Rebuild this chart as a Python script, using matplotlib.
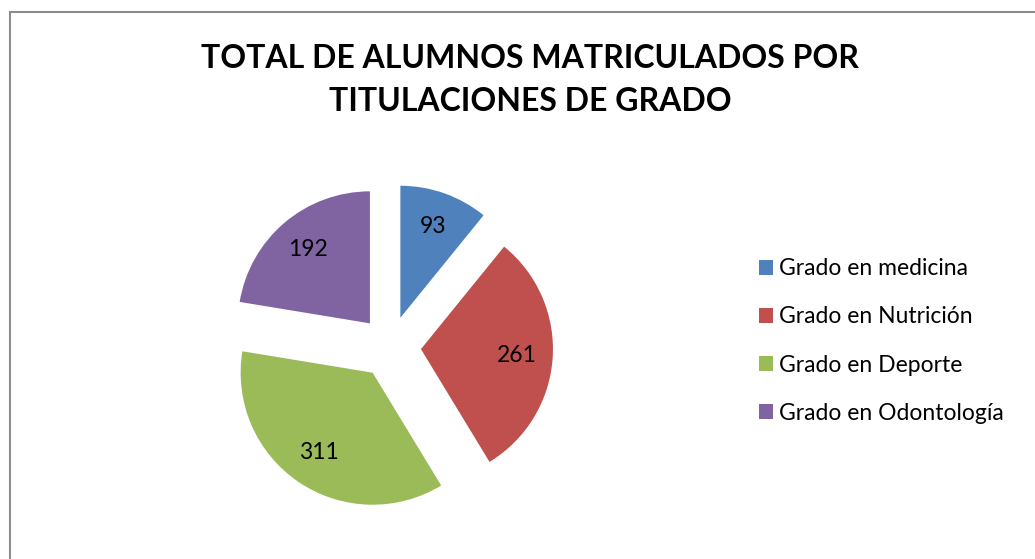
import matplotlib
matplotlib.use("Agg")
import matplotlib.pyplot as plt
from matplotlib.patches import Rectangle, Patch

categories = ["Grado en medicina", "Grado en Nutrición", "Grado en Deporte", "Grado en Odontología"]
values = [93, 261, 311, 192]
colors = ["#4F81BD", "#C0504D", "#9BBB59", "#8064A2"]
title = "TOTAL DE ALUMNOS MATRICULADOS POR\nTITULACIONES DE GRADO"

W, H = 1035, 559
fig = plt.figure(figsize=(W / 100, H / 100), dpi=100)
plt.rcParams['font.family'] = ['Lato', 'DejaVu Sans']

# frame (right and bottom edges lie outside the picture)
fig.patches.append(Rectangle((9.5 / W, -1), 2, 2 - 11.5 / H, transform=fig.transFigure,
                             fill=False, edgecolor="#8c8c8c", linewidth=1.5))

# pie axes: center (390, 347) px, radius 132 px
cx, cy, r = 390, H - 347, 132
L = 1.45
half = r * L
ax = fig.add_axes([(cx - half) / W, (cy - half) / H, 2 * half / W, 2 * half / H])
total = sum(values)
wedges, texts, autotexts = ax.pie(
    values, colors=colors, startangle=90, counterclock=False,
    explode=[0.235] * len(values), radius=1,
    autopct=lambda p: f"{round(p * total / 100)}", pctdistance=0.73,
    textprops=dict(fontsize=16.5, color="black"),
    wedgeprops=dict(linewidth=0))
ax.set_xlim(-L, L)
ax.set_ylim(-L, L)
ax.set_aspect("equal")
ax.axis("off")

fig.text(530 / W, 1 - 80 / H, title, ha="center", va="center", fontsize=23,
         fontweight="bold", linespacing=1.62)

handles = [Patch(facecolor=c, edgecolor="none") for c in colors]
leg = fig.legend(handles, categories, loc="center left", bbox_to_anchor=(759 / W, 1 - 341 / H),
                 frameon=False, fontsize=16.5, handlelength=0.62, handleheight=0.62,
                 handletextpad=0.25, labelspacing=1.18, borderpad=0, borderaxespad=0)

fig.savefig("out.png", dpi=100, facecolor="white")
